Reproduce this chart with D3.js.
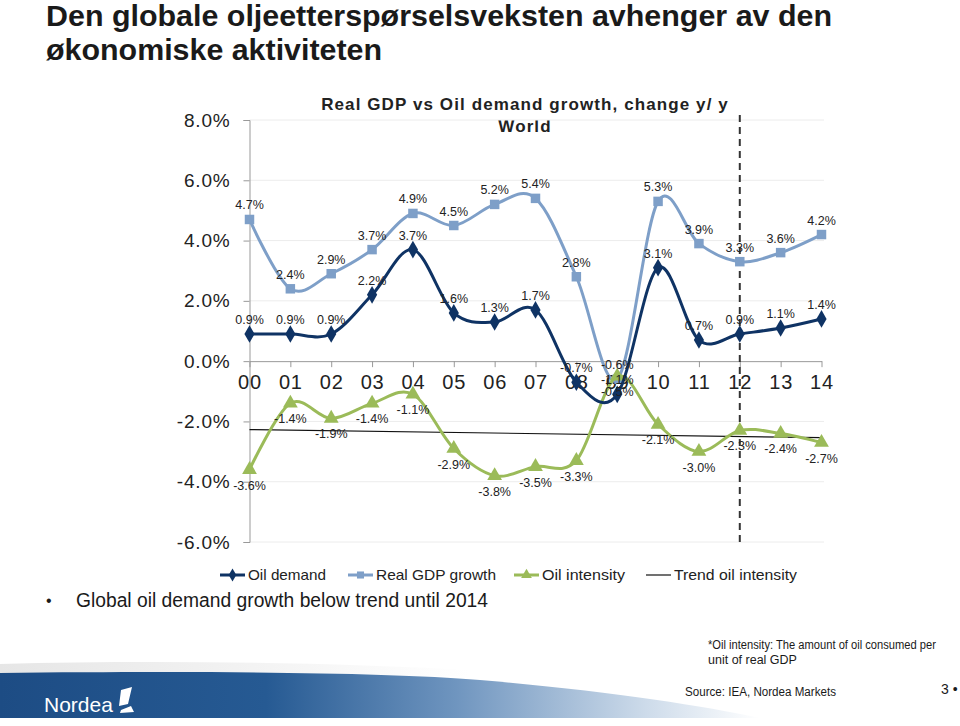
<!DOCTYPE html>
<html><head><meta charset="utf-8">
<script src="https://cdn.jsdelivr.net/npm/d3@7/dist/d3.min.js"></script>
<style>body{margin:0;background:#fff}svg{display:block}</style>
</head><body>
<svg id="c" width="960" height="726"></svg>
<script>
const years = ["00","01","02","03","04","05","06","07","08","09","10","11","12","13","14"];
const oilDemand = [0.9,0.9,0.9,2.2,3.7,1.6,1.3,1.7,-0.7,-1.1,3.1,0.7,0.9,1.1,1.4];
const realGDP = [4.7,2.4,2.9,3.7,4.9,4.5,5.2,5.4,2.8,-0.6,5.3,3.9,3.3,3.6,4.2];
const oilIntensity = [-3.6,-1.4,-1.9,-1.4,-1.1,-2.9,-3.8,-3.5,-3.3,-0.5,-2.1,-3.0,-2.3,-2.4,-2.7];
const trendYears = ["00","14"];
const trendValues = [-2.27,-2.54];
const yTicks = [-6,-4,-2,0,2,4,6,8];
const dividerYear = "12";

const svg = d3.select("#c");
const x = d3.scalePoint().domain(years).range([249.5, 821.5]);
const y = d3.scaleLinear().domain([-6, 8]).range([542, 120]);
const fmt = v => v.toFixed(1) + "%";

// Title
const title = svg.append("g").attr("font-family","'Liberation Sans Narrow','Liberation Sans',Arial,sans-serif")
  .attr("font-weight","bold").attr("font-size",29).attr("fill","#1a1a1a");
title.append("text").attr("x",46).attr("y",26).attr("textLength",786).attr("lengthAdjust","spacingAndGlyphs")
  .text("Den globale oljeetterspørselsveksten avhenger av den");
title.append("text").attr("x",46).attr("y",60).attr("textLength",336).attr("lengthAdjust","spacingAndGlyphs")
  .text("økonomiske aktiviteten");

// Chart title
const ct = svg.append("g").attr("font-family","'Liberation Sans',Arial,sans-serif").attr("font-weight","bold")
  .attr("font-size",17).attr("fill","#222").attr("text-anchor","middle");
ct.append("text").attr("x",525).attr("y",110).attr("letter-spacing",1.1).text("Real GDP vs Oil demand growth, change y/ y");
ct.append("text").attr("x",525).attr("y",132).attr("letter-spacing",1.1).text("World");

// Gridlines
svg.append("g").selectAll("line").data(yTicks.filter(d => d !== 0)).join("line")
  .attr("x1",249.5).attr("x2",824).attr("y1",d=>y(d)).attr("y2",d=>y(d))
  .attr("stroke","#ececec").attr("stroke-width",1);

// Y axis
const yAxis = d3.axisLeft(y).tickValues(yTicks).tickSize(6).tickFormat(fmt);
const yg = svg.append("g").attr("transform","translate(249.5,0)").call(yAxis);
yg.select(".domain").attr("stroke","#999");
yg.selectAll(".tick line").attr("stroke","#999");
yg.selectAll(".tick text").attr("x",-19).attr("font-size",19).attr("letter-spacing",0.8)
  .attr("font-family","'Liberation Sans',Arial,sans-serif").attr("fill","#222");

// X axis at 0
const xAxis = d3.axisBottom(x).tickSize(6).tickSizeOuter(0);
const xg = svg.append("g").attr("transform",`translate(0,${y(0)})`).call(xAxis);
xg.select(".domain").attr("stroke","#999");
xg.selectAll(".tick line").attr("stroke","#999");
xg.selectAll(".tick text").attr("y",14).attr("font-size",20).attr("letter-spacing",0.8)
  .attr("font-family","'Liberation Sans',Arial,sans-serif").attr("fill","#222");

// Dashed divider
svg.append("line").attr("x1",x(dividerYear)).attr("x2",x(dividerYear)).attr("y1",115).attr("y2",542)
  .attr("stroke","#333").attr("stroke-width",2).attr("stroke-dasharray","7,5");

// Trend line
svg.append("line").attr("x1",x(trendYears[0])).attr("x2",x(trendYears[1]))
  .attr("y1",y(trendValues[0])).attr("y2",y(trendValues[1])).attr("stroke","#111").attr("stroke-width",1.2);

const line = d3.line().x((d,i)=>x(years[i])).y(d=>y(d)).curve(d3.curveCardinal.tension(0));
const cNavy = "#0f3364", cGdp = "#7e9fc8", cGreen = "#9bbb59";

function series(vals, color, sym, size){
  const g = svg.append("g");
  g.append("path").attr("d", line(vals)).attr("fill","none").attr("stroke",color).attr("stroke-width",3);
  g.selectAll("path.m").data(vals).join("path").attr("class","m")
    .attr("transform",(d,i)=>`translate(${x(years[i])},${y(d)})`)
    .attr("d", d3.symbol().type(sym).size(size)()).attr("fill",color);
  return g;
}
series(realGDP, cGdp, d3.symbolSquare, 90);
series(oilIntensity, cGreen, d3.symbolTriangle, 95);
series(oilDemand, cNavy, d3.symbolDiamond, 90);

// Data labels
const lbl = svg.append("g").attr("font-family","'Liberation Sans',Arial,sans-serif").attr("font-size",12.5)
  .attr("fill","#222").attr("text-anchor","middle");
function labels(vals, dy){
  lbl.append("g").selectAll("text").data(vals).join("text")
    .attr("x",(d,i)=>x(years[i])).attr("y",d=>y(d)+dy).text(fmt);
}
labels(realGDP, -10);
labels(oilDemand, -10);
labels(oilIntensity, 20);

// Legend
const leg = svg.append("g").attr("font-family","'Liberation Sans',Arial,sans-serif").attr("font-size",14.5).attr("fill","#222");
const legItems = [
  {name:"Oil demand", color:cNavy, sym:d3.symbolDiamond, x0:220, tl:78},
  {name:"Real GDP growth", color:cGdp, sym:d3.symbolSquare, x0:348, tl:120},
  {name:"Oil intensity", color:cGreen, sym:d3.symbolTriangle, x0:514, tl:83},
  {name:"Trend oil intensity", color:"#111", sym:null, x0:646, tl:123}
];
legItems.forEach(it=>{
  const g = leg.append("g").attr("transform",`translate(${it.x0},575)`);
  g.append("line").attr("x1",0).attr("x2",25).attr("stroke",it.color).attr("stroke-width",it.sym?3:1.2);
  if(it.sym) g.append("path").attr("transform","translate(12.5,0)").attr("d",d3.symbol().type(it.sym).size(50)()).attr("fill",it.color);
  g.append("text").attr("x",28).attr("y",5).attr("textLength",it.tl).attr("lengthAdjust","spacingAndGlyphs").text(it.name);
});

// Bullet text
const bt = svg.append("g").attr("font-family","'Liberation Sans Narrow','Liberation Sans',Arial,sans-serif").attr("fill","#1a1a1a");
bt.append("text").attr("x",46).attr("y",606).attr("font-size",16).text("•");
bt.append("text").attr("x",76).attr("y",607).attr("font-size",20).attr("textLength",412).attr("lengthAdjust","spacingAndGlyphs")
  .text("Global oil demand growth below trend until 2014");

// Footer band
const defs = svg.append("defs");
const gr = defs.append("linearGradient").attr("id","band").attr("x1","0").attr("x2","1").attr("y1","0").attr("y2","0");
[[0,"#1d4c84"],[0.35,"#265a93"],[0.6,"#6f95bf"],[0.85,"#cddbea"],[1,"#ffffff"]].forEach(s=>gr.append("stop").attr("offset",s[0]).attr("stop-color",s[1]));
const sh = defs.append("linearGradient").attr("id","shadow").attr("x1","0").attr("x2","1").attr("y1","0").attr("y2","0");
[[0,"#e6e6e6"],[0.5,"#f2f2f2"],[1,"#ffffff"]].forEach(s=>sh.append("stop").attr("offset",s[0]).attr("stop-color",s[1]));
svg.append("path").attr("d","M0,664 C150,660 320,662 470,670 L470,676 L0,676 Z").attr("fill","url(#shadow)");
svg.append("path").attr("d","M0,673 C200,671 380,672 480,680 C600,690 700,705 760,718 L0,718 Z").attr("fill","url(#band)");
// Nordea logo
svg.append("text").attr("x",44).attr("y",712).attr("font-family","'Liberation Sans',Arial,sans-serif")
  .attr("font-size",21).attr("fill","#fff").text("Nordea");
svg.append("path").attr("d","M119,706 L121,690 L132,687 L128,704 Z M121,710 L131,706 L134,712 L120,713 Z").attr("fill","#fff");

// Footnotes
const fn = svg.append("g").attr("font-family","'Liberation Sans Narrow','Liberation Sans',Arial,sans-serif").attr("font-size",12.5).attr("fill","#1a1a1a");
fn.append("text").attr("x",708).attr("y",649).attr("textLength",228).attr("lengthAdjust","spacingAndGlyphs").text("*Oil intensity: The amount of oil consumed per");
fn.append("text").attr("x",708).attr("y",664).text("unit of real GDP");
fn.append("text").attr("x",685).attr("y",696).attr("textLength",151).attr("lengthAdjust","spacingAndGlyphs").text("Source: IEA, Nordea Markets");
fn.append("text").attr("x",941).attr("y",694).attr("font-size",14).text("3 •");
</script>
</body></html>
